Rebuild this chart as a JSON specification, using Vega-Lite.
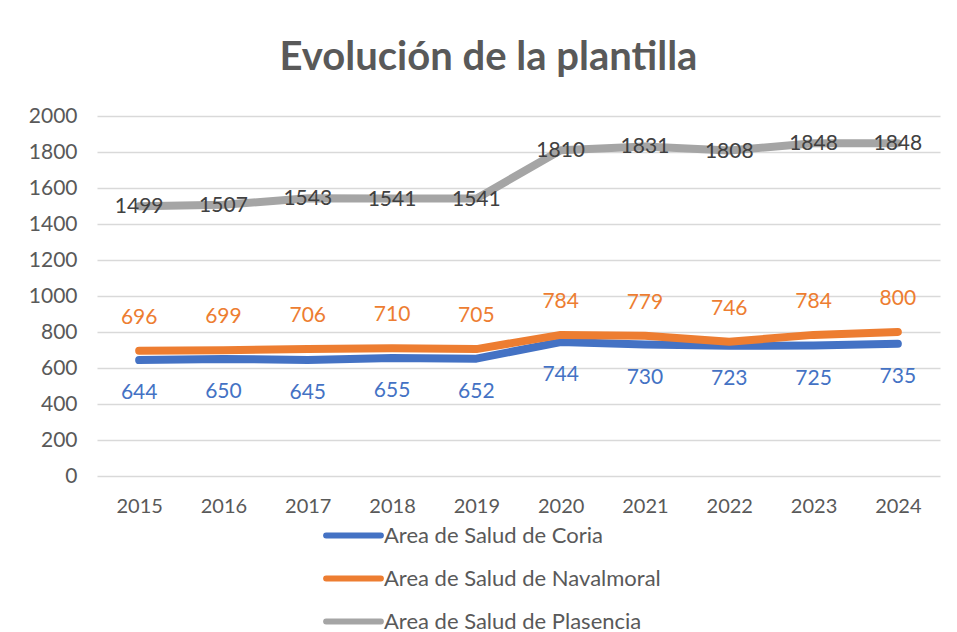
{
  "$schema": "https://vega.github.io/schema/vega-lite/v6.json",
  "autosize": {"type": "none"},
  "width": 843,
  "height": 360,
  "padding": {"left": 97, "top": 116, "right": 17, "bottom": 156},
  "background": "white",
  "title": {
    "text": "Evolución de la plantilla",
    "font": "Lato",
    "fontSize": 40,
    "fontWeight": "bold",
    "color": "#595959",
    "anchor": "middle",
    "dx": -30,
    "offset": 27
  },
  "config": {
    "view": {"stroke": null},
    "font": "Lato"
  },
  "data": {
    "values": [
      {"year": "2015", "serie": "Area de Salud de Coria", "value": 644},
      {"year": "2016", "serie": "Area de Salud de Coria", "value": 650},
      {"year": "2017", "serie": "Area de Salud de Coria", "value": 645},
      {"year": "2018", "serie": "Area de Salud de Coria", "value": 655},
      {"year": "2019", "serie": "Area de Salud de Coria", "value": 652},
      {"year": "2020", "serie": "Area de Salud de Coria", "value": 744},
      {"year": "2021", "serie": "Area de Salud de Coria", "value": 730},
      {"year": "2022", "serie": "Area de Salud de Coria", "value": 723},
      {"year": "2023", "serie": "Area de Salud de Coria", "value": 725},
      {"year": "2024", "serie": "Area de Salud de Coria", "value": 735},
      {"year": "2015", "serie": "Area de Salud de Navalmoral", "value": 696},
      {"year": "2016", "serie": "Area de Salud de Navalmoral", "value": 699},
      {"year": "2017", "serie": "Area de Salud de Navalmoral", "value": 706},
      {"year": "2018", "serie": "Area de Salud de Navalmoral", "value": 710},
      {"year": "2019", "serie": "Area de Salud de Navalmoral", "value": 705},
      {"year": "2020", "serie": "Area de Salud de Navalmoral", "value": 784},
      {"year": "2021", "serie": "Area de Salud de Navalmoral", "value": 779},
      {"year": "2022", "serie": "Area de Salud de Navalmoral", "value": 746},
      {"year": "2023", "serie": "Area de Salud de Navalmoral", "value": 784},
      {"year": "2024", "serie": "Area de Salud de Navalmoral", "value": 800},
      {"year": "2015", "serie": "Area de Salud de Plasencia", "value": 1499},
      {"year": "2016", "serie": "Area de Salud de Plasencia", "value": 1507},
      {"year": "2017", "serie": "Area de Salud de Plasencia", "value": 1543},
      {"year": "2018", "serie": "Area de Salud de Plasencia", "value": 1541},
      {"year": "2019", "serie": "Area de Salud de Plasencia", "value": 1541},
      {"year": "2020", "serie": "Area de Salud de Plasencia", "value": 1810},
      {"year": "2021", "serie": "Area de Salud de Plasencia", "value": 1831},
      {"year": "2022", "serie": "Area de Salud de Plasencia", "value": 1808},
      {"year": "2023", "serie": "Area de Salud de Plasencia", "value": 1848},
      {"year": "2024", "serie": "Area de Salud de Plasencia", "value": 1848}
    ]
  },
  "encoding": {
    "x": {
      "field": "year",
      "type": "ordinal",
      "scale": {"type": "point", "padding": 0.5},
      "axis": {
        "title": null,
        "labelAngle": 0,
        "labelFontSize": 20,
        "labelColor": "#595959",
        "labelPadding": 20,
        "ticks": false,
        "domain": false,
        "grid": false
      }
    },
    "y": {
      "field": "value",
      "type": "quantitative",
      "scale": {"domain": [0, 2000]},
      "axis": {
        "title": null,
        "format": "d",
        "values": [0, 200, 400, 600, 800, 1000, 1200, 1400, 1600, 1800, 2000],
        "labelFontSize": 21,
        "labelColor": "#595959",
        "labelPadding": 20,
        "ticks": false,
        "domain": false,
        "gridColor": "#D9D9D9",
        "gridWidth": 1.5
      }
    }
  },
  "layer": [
    {
      "mark": {"type": "line", "strokeWidth": 8, "strokeCap": "round", "strokeJoin": "round"},
      "encoding": {
        "color": {
          "field": "serie",
          "type": "nominal",
          "scale": {
            "domain": ["Area de Salud de Coria", "Area de Salud de Navalmoral", "Area de Salud de Plasencia"],
            "range": ["#4472C4", "#ED7D31", "#A5A5A5"]
          },
          "legend": {
            "title": null,
            "orient": "none",
            "legendX": 226,
            "legendY": 389,
            "direction": "vertical",
            "symbolType": "stroke",
            "symbolSize": 3000,
            "symbolStrokeWidth": 6,
            "labelFontSize": 22,
            "labelColor": "#595959",
            "labelOffset": 0,
            "labelLimit": 400,
            "rowPadding": -17,
            "encode": {"symbols": {"update": {"strokeCap": {"value": "round"}}}}
          }
        }
      }
    },
    {
      "transform": [{"filter": "datum.serie === 'Area de Salud de Coria'"}],
      "mark": {"type": "text", "fontSize": 21, "dy": 33, "color": "#4472C4"},
      "encoding": {"text": {"field": "value", "type": "quantitative"}}
    },
    {
      "transform": [{"filter": "datum.serie === 'Area de Salud de Navalmoral'"}],
      "mark": {"type": "text", "fontSize": 21, "dy": -33, "color": "#ED7D31"},
      "encoding": {"text": {"field": "value", "type": "quantitative"}}
    },
    {
      "transform": [{"filter": "datum.serie === 'Area de Salud de Plasencia'"}],
      "mark": {"type": "text", "fontSize": 21, "dy": 1, "color": "#404040"},
      "encoding": {"text": {"field": "value", "type": "quantitative"}}
    }
  ]
}
